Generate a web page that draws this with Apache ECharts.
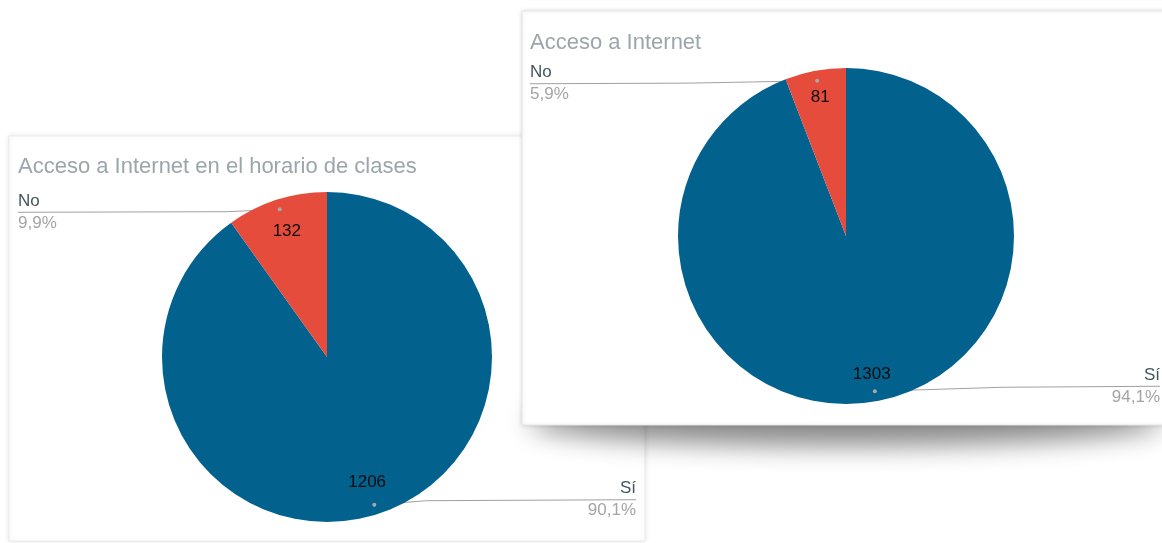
<!DOCTYPE html>
<html><head><meta charset="utf-8">
<script src="https://cdn.jsdelivr.net/npm/echarts@6/dist/echarts.min.js"></script>
<style>html,body{margin:0;padding:0;background:#fff;}#c{width:1162px;height:543px;}</style>
</head><body><div id="c"></div>
<script>
// ---- data ----
const categories = ['Sí', 'No'];
const clasesValues = [1206, 132];
const internetValues = [1303, 81];
const titles = ['Acceso a Internet en el horario de clases', 'Acceso a Internet'];
const colors = ['#02628d', '#e64c3c'];

const FONT = '"Liberation Sans", Arial, sans-serif';
const cfgs = [
  {values: clasesValues, title: titles[0], cx: 327, cy: 357, r: 165, edgeL: 18, edgeR: 636, inner: 0.56, tx: 18, ty: 156, bend: 0.2},
  {values: internetValues, title: titles[1], cx: 846, cy: 236, r: 168, edgeL: 530, edgeR: 1160, inner: 0.64, tx: 530, ty: 32, bend: 0.45}
];
function pctText(vals, i) {
  const s = vals.reduce((a, b) => a + b, 0);
  return (vals[i] / s * 100).toFixed(1).replace('.', ',');
}
const dots = {};
function makeLayout(cfg, key) {
  return function (params) {
    const pts = params.labelLinePoints;
    if (!pts || !pts.length) return {};
    const p0 = pts[0];
    const dx = (p0[0] - cfg.cx) / cfg.r, dy = (p0[1] - cfg.cy) / cfg.r;
    const dot = [cfg.cx + dx * cfg.r * 0.94, cfg.cy + dy * cfg.r * 0.94];
    const left = dx < 0;
    const ex = left ? cfg.edgeL : cfg.edgeR;
    const ey = dot[1] + (dy < 0 ? 3 : -5);
    const mid = [dot[0] + (ex - dot[0]) * cfg.bend, ey - (ey - dot[1]) * 0.2];
    dots[key + '_' + params.dataIndex] = dot;
    return {
      x: ex, y: ey, align: left ? 'left' : 'right', verticalAlign: 'middle',
      labelLinePoints: [dot, mid, [ex, ey]]
    };
  };
}

const series = [];
cfgs.forEach((cfg, k) => {
  const data = categories.map((c, i) => ({ name: c, value: cfg.values[i] }));
  series.push({
    type: 'pie', z: 3, center: [cfg.cx, cfg.cy], radius: cfg.r,
    startAngle: 90, clockwise: true, avoidLabelOverlap: false, animation: false,
    color: colors, data: data,
    itemStyle: { borderWidth: 0 },
    label: {
      show: true, position: 'outside',
      formatter: p => '{n|' + p.name + '}\n{p|' + pctText(cfg.values, p.dataIndex) + '%}',
      rich: {
        n: { fontFamily: FONT, fontSize: 17, color: '#44545d', lineHeight: 22 },
        p: { fontFamily: FONT, fontSize: 17, color: '#a4a4a4', lineHeight: 22 }
      }
    },
    labelLine: { show: true, length: 10, length2: 20, smooth: false, lineStyle: { color: '#a0a0a0', width: 1 } },
    labelLayout: makeLayout(cfg, k),
    emphasis: { disabled: true }
  });
  series.push({
    type: 'pie', z: 4, center: [cfg.cx, cfg.cy], radius: [cfg.r * cfg.inner, cfg.r],
    startAngle: 90, clockwise: true, avoidLabelOverlap: false, animation: false, silent: true,
    data: data,
    itemStyle: { color: 'rgba(0,0,0,0)', borderWidth: 0 },
    label: {
      show: true, position: 'inside', formatter: '{c}',
      fontFamily: FONT, fontSize: 17, color: '#0c0c0c', textBorderWidth: 0
    },
    labelLine: { show: false },
    emphasis: { disabled: true }
  });
});

const baseGraphics = [
  { id: 'cardL', type: 'rect', z: -10, shape: { x: 9, y: 136, width: 636, height: 405 },
    style: { fill: '#fff', stroke: '#ebebeb', lineWidth: 1, shadowBlur: 5, shadowColor: 'rgba(0,0,0,0.10)' } },
  { id: 'shadowR', type: 'ellipse', z: -9, shape: { cx: 846, cy: 400, rx: 318, ry: 24 },
    style: { fill: '#888', shadowBlur: 26, shadowOffsetY: 22, shadowColor: 'rgba(0,0,0,0.46)' } },
  { id: 'cardR', type: 'rect', z: -8, shape: { x: 522, y: 11, width: 660, height: 414 },
    style: { fill: '#fff', stroke: '#e6e6e6', lineWidth: 1, shadowBlur: 4, shadowColor: 'rgba(0,0,0,0.14)' } }
];

const chart = echarts.init(document.getElementById('c'), null, { renderer: 'canvas' });
chart.setOption({
  backgroundColor: '#fff',
  animation: false,
  title: cfgs.map(cfg => ({
    text: cfg.title, left: cfg.tx, top: cfg.ty, padding: 0,
    textStyle: { fontFamily: FONT, fontSize: 22, fontWeight: 'normal', color: '#9ba6ab' }
  })),
  graphic: { elements: baseGraphics },
  series: series
});
let dotsDone = false;
function addDots() {
  if (dotsDone) return;
  const keys = Object.keys(dots);
  if (!keys.length) return;
  dotsDone = true;
  const els = baseGraphics.concat(keys.map(key => ({
    id: 'dot' + key, type: 'circle', z: 50, shape: { cx: dots[key][0], cy: dots[key][1], r: 2 },
    style: { fill: '#a8a8a8' }
  })));
  chart.setOption({ graphic: { elements: els } });
}
chart.on('finished', addDots);
setTimeout(addDots, 50);
</script></body></html>
